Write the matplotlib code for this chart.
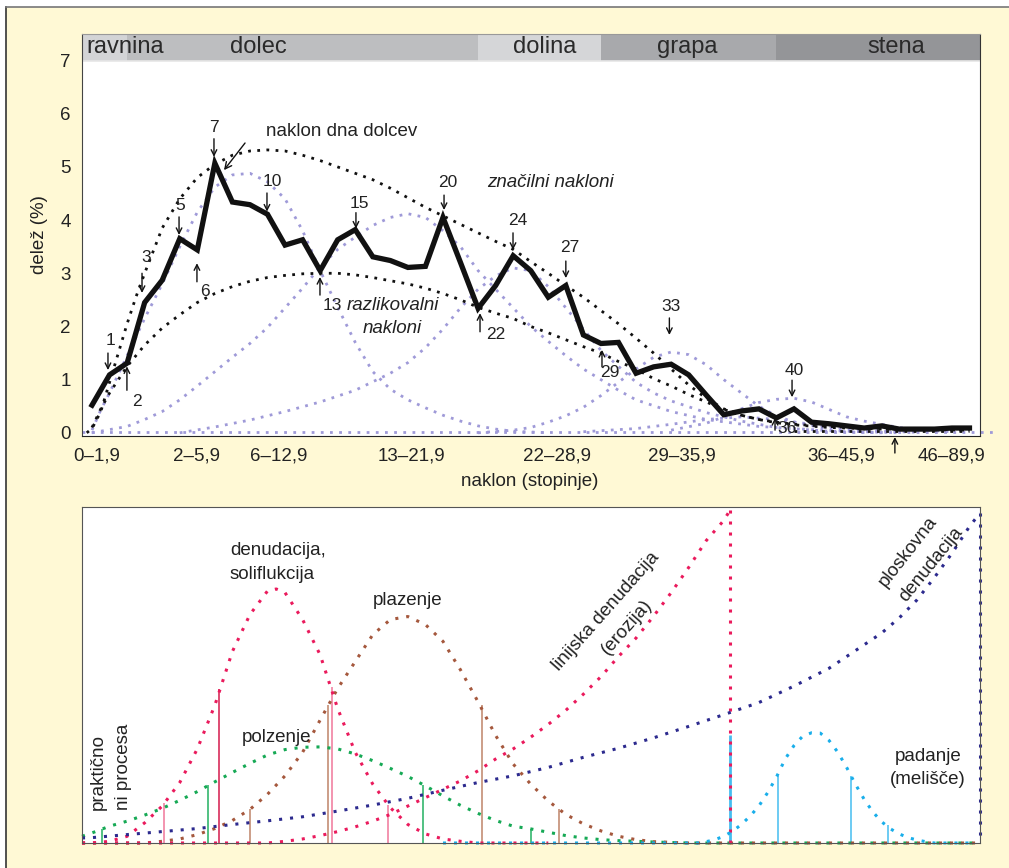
import matplotlib
matplotlib.use('Agg')
import matplotlib.pyplot as plt
from matplotlib.patches import Rectangle
from matplotlib.lines import Line2D

plt.rcParams['font.family'] = ['Liberation Sans', 'DejaVu Sans']

# ---------------- zgornji graf: delez naklonov ----------------
classes = list(range(51))
share = [0.52, 1.09, 1.31, 2.45, 2.87, 3.65, 3.44, 5.07, 4.34, 4.29,
         4.11, 3.53, 3.63, 3.05, 3.63, 3.82, 3.31, 3.24, 3.11, 3.13,
         4.05, 3.20, 2.34, 2.77, 3.33, 3.05, 2.55, 2.77, 1.84, 1.68,
         1.70, 1.12, 1.24, 1.29, 1.09, 0.71, 0.34, 0.41, 0.45, 0.28,
         0.45, 0.20, 0.17, 0.13, 0.09, 0.13, 0.07, 0.07, 0.07, 0.09, 0.09]

class_labels = ['0–1,9', '2–5,9', '6–12,9', '13–21,9', '22–28,9', '29–35,9', '36–45,9', '46–89,9']
class_pos = [0.28, 5.98, 10.66, 18.2, 26.5, 33.6, 42.7, 49.0]

# pasovi reliefnih oblik
band_names = ['ravnina', 'dolec', 'dolina', 'grapa', 'stena']
band_edges = [-0.57, 2, 22, 29, 39, 50.6]
band_colors = ['#d3d4d6', '#bdbec0', '#d5d6d8', '#a8a9ac', '#949598']
band_text_x = [-0.3, 9.46, 25.8, 33.9, 45.8]

# "značilni nakloni" (crna pikcasta)
k1_x = [-0.3, 0, 0.5, 1, 1.5, 2, 2.5, 3] + list(range(4, 41)) + [42, 44, 46, 48, 50]
k1_y = [0.0, 0.08, 0.4, 0.95, 1.5, 2.05, 2.55, 3.0,
        3.85, 4.4, 4.8, 5.05, 5.22, 5.3, 5.32, 5.3, 5.22, 5.12,
        5.0, 4.88, 4.76, 4.6, 4.42, 4.24, 4.08, 3.92, 3.76, 3.6,
        3.45, 3.22, 3.0, 2.77, 2.55, 2.3, 2.05, 1.78, 1.5, 1.2,
        0.9, 0.65, 0.45, 0.33, 0.25, 0.2, 0.16,
        0.12, 0.09, 0.07, 0.06, 0.05]

# "razlikovalni nakloni"
k2_x = [0, 0.5, 1] + list(range(2, 41)) + [42, 45, 50]
k2_y = [0.1, 0.45, 0.75,
        1.25, 1.65, 1.97, 2.22, 2.45, 2.62, 2.75, 2.85, 2.92, 2.96,
        2.99, 3.0, 3.0, 2.97, 2.92, 2.86, 2.8, 2.72, 2.62, 2.5,
        2.36, 2.25, 2.15, 2.0, 1.88, 1.75, 1.62, 1.5, 1.34, 1.2,
        1.02, 0.88, 0.72, 0.58, 0.44, 0.33, 0.25, 0.19, 0.15,
        0.1, 0.07, 0.05]

# komponente (vijolicne pikcaste)
pa_x = [0, 0.5, 1] + list(range(2, 25)) + [26]
pa_y = [0.05, 0.43, 0.75,
        1.45, 2.15, 2.8, 3.5, 4.15, 4.62, 4.85, 4.88, 4.72, 4.4,
        3.8, 3.05, 2.36, 1.7, 1.15, 0.82, 0.62, 0.47, 0.33, 0.22,
        0.13, 0.07, 0.03, 0.0]
pb_x = [0] + list(range(2, 32)) + [33, 35, 38, 42, 46]
pb_y = [0.0,
        0.12, 0.25, 0.4, 0.62, 0.88, 1.15, 1.42, 1.68, 1.98, 2.35,
        2.72, 3.12, 3.45, 3.68, 3.9, 4.05, 4.12, 4.05, 3.8, 3.5,
        3.05, 2.7, 2.35, 2.0, 1.72, 1.45, 1.2, 1.0, 0.8, 0.62,
        0.4, 0.25, 0.12, 0.04, 0.0]
pc_x = [5, 7, 9, 11, 13, 15, 17] + list(range(18, 34)) + [35, 37, 39, 42, 45]
pc_y = [0.0, 0.11, 0.24, 0.4, 0.58, 0.8, 1.12,
        1.32, 1.6, 1.95, 2.35, 2.7, 2.95, 3.1, 3.05, 2.75, 2.35,
        1.95, 1.55, 1.25, 0.95, 0.75, 0.6,
        0.38, 0.22, 0.1, 0.03, 0.0]
pd_x = [22, 24, 25, 26, 27, 28, 29, 30, 31, 32, 33, 34, 35, 36, 37, 38, 39, 40, 42, 44]
pd_y = [0.0, 0.05, 0.1, 0.2, 0.32, 0.48, 0.7, 0.95, 1.2, 1.42, 1.52, 1.47, 1.28, 1.0, 0.75, 0.5, 0.32, 0.2, 0.07, 0.02]
pe_x = [33, 35, 36, 37, 38, 39, 40, 41, 42, 43, 44, 45, 46, 47, 49]
pe_y = [0.05, 0.18, 0.3, 0.45, 0.57, 0.63, 0.65, 0.58, 0.44, 0.3, 0.22, 0.16, 0.1, 0.06, 0.02]
pf_x = [28, 31, 33, 35, 37, 39, 41, 43, 45, 47]
pf_y = [0.02, 0.08, 0.16, 0.25, 0.3, 0.25, 0.16, 0.08, 0.03, 0.01]

# oznake: besedilo, x, y, puscica x, rep, konica
marks = [
    ('1', 1.03, 1.74, 0.91, 1.5, 1.18),
    ('2', 2.56, 0.58, 1.99, 0.8, 1.25),
    ('3', 3.08, 3.30, 2.85, 3.0, 2.63),
    ('5', 5.01, 4.28, 4.96, 4.06, 3.72),
    ('6', 6.44, 2.65, 5.98, 2.84, 3.19),
    ('7', 6.95, 5.75, 6.95, 5.53, 5.19),
    ('10', 10.26, 4.72, 9.97, 4.51, 4.16),
    ('13', 13.68, 2.40, 12.99, 2.59, 2.93),
    ('15', 15.21, 4.32, 15.04, 4.14, 3.84),
    ('20', 20.28, 4.70, 20.06, 4.47, 4.19),
    ('22', 23.02, 1.84, 22.11, 1.90, 2.25),
    ('24', 24.27, 4.00, 23.99, 3.76, 3.44),
    ('27', 27.24, 3.49, 27.0, 3.23, 2.91),
    ('29', 29.52, 1.14, 29.06, 1.24, 1.56),
    ('33', 33.0, 2.37, 32.9, 2.16, 1.84),
    ('36', 39.6, 0.09, 38.92, 0.05, 0.28),
    ('40', 40.0, 1.18, 39.89, 0.99, 0.67),
    ('', 45.75, 0, 45.75, -0.38, -0.08),
]

# ---------------- spodnji graf: procesi ----------------
dn_x = [-0.57, 0] + list(range(1, 11)) + [10.5] + list(range(11, 23)) + [26]
dn_y = [0.0, 0.0, 0.005, 0.02, 0.06, 0.11, 0.18, 0.28, 0.41, 0.57, 0.68, 0.75, 0.756,
        0.745, 0.665, 0.56, 0.4, 0.27, 0.175, 0.105, 0.055, 0.027, 0.012, 0.005, 0.0, 0.0]
br_x = [-0.57] + list(range(3, 33)) + [34, 50.5]
br_y = [0.0, 0.0, 0.005, 0.012, 0.025, 0.043, 0.067, 0.1, 0.145, 0.2, 0.27,
        0.366, 0.46, 0.54, 0.62, 0.665, 0.674, 0.65, 0.6, 0.515, 0.42,
        0.32, 0.235, 0.175, 0.125, 0.085, 0.057, 0.036, 0.02, 0.01, 0.004, 0.0, 0.0]
gr_x = [-0.57] + list(range(0, 31)) + [32, 34, 50.5]
gr_y = [0.02, 0.03, 0.05, 0.065, 0.083, 0.103, 0.127, 0.153, 0.182, 0.21, 0.237,
        0.262, 0.278, 0.285, 0.286, 0.28, 0.265, 0.245, 0.222, 0.198, 0.17,
        0.14, 0.112, 0.088, 0.067, 0.05, 0.042, 0.032, 0.022, 0.015, 0.01,
        0.007, 0.003, 0.0, 0.0]
er_x = [-0.57] + list(range(10, 37)) + [36.35]
er_y = [0.0, 0.0, 0.005, 0.012, 0.022, 0.034, 0.048, 0.065, 0.085, 0.11, 0.135,
        0.16, 0.185, 0.215, 0.25, 0.28, 0.315, 0.353, 0.395, 0.443, 0.495,
        0.555, 0.61, 0.675, 0.745, 0.82, 0.9, 0.96, 0.99]
nv_x = [-0.57, 0] + list(range(2, 43, 2)) + list(range(43, 51)) + [50.6]
nv_y = [0.015, 0.016,
        0.025, 0.034, 0.043, 0.055, 0.066, 0.078, 0.095, 0.113, 0.133, 0.157,
        0.18, 0.2, 0.225, 0.255, 0.282, 0.313, 0.347, 0.382, 0.418, 0.467, 0.52,
        0.555, 0.59, 0.625, 0.67, 0.723, 0.79, 0.862, 0.942, 0.982]
cy_x = [20, 34.5] + [35 + 0.5 * i for i in range(27)] + [50]
cy_y = [0.0, 0.0, 0.004, 0.01, 0.02, 0.035, 0.055, 0.08, 0.11, 0.15, 0.196, 0.25,
        0.29, 0.318, 0.328, 0.327, 0.305, 0.27, 0.225, 0.175, 0.13, 0.092,
        0.063, 0.042, 0.027, 0.016, 0.009, 0.004, 0.0, 0.0]

green_stem_x = [0.57, 6.6, 18.86, 25.0]
green_stem_y = [0.042, 0.173, 0.173, 0.042]
pink_stem_x = [4.1, 13.7, 16.87]
pink_stem_y = [0.119, 0.464, 0.113]
red_stem_x = [7.24]
red_stem_y = [0.458]
brown_stem_x = [9.0, 13.45, 22.2, 26.6]
brown_stem_y = [0.1, 0.41, 0.41, 0.1]
cyan_stem_x = [39.1, 43.25, 45.35]
cyan_stem_y = [0.2, 0.2, 0.054]
cyan_peak_x = 36.35
cyan_peak_y = 0.321

# ---------------- risanje ----------------
W, H = 1009, 868
fig = plt.figure(figsize=(W / 100, H / 100), dpi=100)
fig.patch.set_facecolor('white')
fig.add_artist(Rectangle((6 / W, 0), 1, 1 - 7 / H, transform=fig.transFigure,
                         facecolor='#fff9d5', edgecolor='none', zorder=-5))
fig.add_artist(Line2D([6 / W, 6 / W], [0, 1 - 7 / H], transform=fig.transFigure, color='#333', lw=1.2))
fig.add_artist(Line2D([6 / W, 1], [1 - 7 / H, 1 - 7 / H], transform=fig.transFigure, color='#777', lw=1.2))

blk = '#111111'
pur = '#9f9ad8'
dot_top = dict(linestyle=(0, (1, 2.3)), dash_capstyle='butt')
dot_bot = dict(linestyle=(0, (1, 2.6)), dash_capstyle='butt')
txt = '#222222'

ax = fig.add_axes([82 / W, 1 - 436 / H, 898 / W, 402 / H])
ax.set_facecolor('white')
ax.set_xlim(-0.57, 50.6)
ax.set_ylim(-0.06, 7.5)

for i, name in enumerate(band_names):
    ax.add_patch(Rectangle((band_edges[i], 7.0), band_edges[i + 1] - band_edges[i], 0.5,
                           facecolor=band_colors[i], edgecolor='none', zorder=1))
    ax.text(band_text_x[i], 7.26, name, fontsize=17, color='#2a2a2a',
            ha='left' if i == 0 else 'center', va='center', zorder=3)
ax.plot([-0.57, 50.6], [7.0, 7.0], color='#e6e6e6', lw=1.2, zorder=2)

# vijolicne komponente
ax.plot([-0.57, 51.4], [0.015, 0.015], color=pur, lw=2.0, clip_on=False, **dot_top)
for cx, cy in [(pa_x, pa_y), (pb_x, pb_y), (pc_x, pc_y), (pd_x, pd_y), (pe_x, pe_y), (pf_x, pf_y)]:
    ax.plot(cx, cy, color=pur, lw=2.0, zorder=2, **dot_top)

ax.plot(k1_x, k1_y, color=blk, lw=2.0, zorder=3, **dot_top)
ax.plot(k2_x, k2_y, color=blk, lw=2.0, zorder=3, **dot_top)
ax.plot([40, 50], [0.04, 0.04], color=blk, lw=2.0, zorder=3, **dot_top)

ax.plot(classes, share, color=blk, lw=3.8, zorder=5, solid_joinstyle='miter')

for lab, tx, ty, axx, tail, tip in marks:
    if lab:
        ax.text(tx, ty, lab, fontsize=12.5, color=txt, ha='center', va='center', zorder=6)
    ax.annotate('', xy=(axx, tip), xytext=(axx, tail), annotation_clip=False,
                arrowprops=dict(arrowstyle='->', lw=1.0, color=blk, shrinkA=0, shrinkB=0,
                                mutation_scale=10), zorder=6)

ax.text(9.91, 5.66, 'naklon dna dolcev', fontsize=13.5, color=txt, ha='left', va='center')
ax.annotate('', xy=(7.52, 4.94), xytext=(8.72, 5.45),
            arrowprops=dict(arrowstyle='->', lw=1.0, color=blk, shrinkA=0, shrinkB=0, mutation_scale=12))
ax.text(14.53, 2.40, 'razlikovalni', fontsize=13.5, style='italic', color=txt, ha='left', va='center')
ax.text(17.09, 1.97, 'nakloni', fontsize=13.5, style='italic', color=txt, ha='center', va='center')
ax.text(26.15, 4.70, 'značilni nakloni', fontsize=13.5, style='italic', color=txt, ha='center', va='center')

ax.set_xticks(class_pos)
ax.set_xticklabels(class_labels, fontsize=13.5, color=txt)
ax.set_yticks(range(8))
ax.set_yticklabels([str(v) for v in range(8)], fontsize=13.5, color=txt)
ax.tick_params(axis='both', length=0)
ax.tick_params(axis='x', pad=8)
ax.tick_params(axis='y', pad=8)
ax.spines['left'].set_color('#444')
ax.spines['bottom'].set_color('#222')
ax.spines['right'].set_color('#333')
ax.spines['top'].set_color('#999')

fig.text(530 / W, 1 - 481 / H, 'naklon (stopinje)', fontsize=13.5, color=txt, ha='center', va='center')
fig.text(40 / W, 1 - 235 / H, 'delež (%)', fontsize=13.5, color=txt, ha='center', va='center', rotation=90)

# spodnji graf
ax2 = fig.add_axes([82 / W, 1 - 843 / H, 898 / W, 336 / H])
ax2.set_facecolor('white')
ax2.set_xlim(-0.57, 50.6)
ax2.set_ylim(0, 1)
ax2.set_xticks([])
ax2.set_yticks([])
for s in ax2.spines.values():
    s.set_color('#555')

ax2.vlines(green_stem_x, 0, green_stem_y, colors='#22b060', lw=1.1)
ax2.vlines(pink_stem_x, 0, pink_stem_y, colors='#f0769a', lw=1.1)
ax2.vlines(red_stem_x, 0, red_stem_y, colors='#d41a4c', lw=1.1)
ax2.vlines(brown_stem_x, 0, brown_stem_y, colors='#be8468', lw=1.1)
ax2.vlines(cyan_stem_x, 0, cyan_stem_y, colors='#45bdf0', lw=1.1)
ax2.vlines([cyan_peak_x], 0, [cyan_peak_y], colors='#45bdf0', lw=2.0)

lwb = 2.2
ax2.plot(gr_x, gr_y, color='#16a955', lw=lwb, clip_on=False, **dot_bot)
ax2.plot(br_x, br_y, color='#a5583d', lw=lwb, clip_on=False, **dot_bot)
ax2.plot(dn_x, dn_y, color='#ea1a5c', lw=lwb, clip_on=False, **dot_bot)
ax2.plot(er_x, er_y, color='#ea1a5c', lw=lwb, clip_on=False, **dot_bot)
ax2.plot([er_x[-1], er_x[-1]], [er_y[-1], 0], color='#ea1a5c', lw=lwb, clip_on=False, **dot_bot)
ax2.plot(cy_x, cy_y, color='#19aeea', lw=lwb, clip_on=False, **dot_bot)
ax2.plot(nv_x, nv_y, color='#2c2a8e', lw=lwb, clip_on=False, **dot_bot)
ax2.plot([nv_x[-1], nv_x[-1]], [nv_y[-1], 0], color='#2c2a8e', lw=lwb, clip_on=False, **dot_bot)

fs = 13.5
ax2.text(7.86, 0.872, 'denudacija,', fontsize=fs, color=txt, ha='left', va='center')
ax2.text(7.86, 0.798, 'soliflukcija', fontsize=fs, color=txt, ha='left', va='center')
ax2.text(18.0, 0.723, 'plazenje', fontsize=fs, color=txt, ha='center', va='center')
ax2.text(10.54, 0.3125, 'polzenje', fontsize=fs, color=txt, ha='center', va='center')
ax2.text(0.34, 0.098, 'praktično', fontsize=fs, color=txt, rotation=90, rotation_mode='anchor',
         ha='left', va='center')
ax2.text(1.77, 0.098, 'ni procesa', fontsize=fs, color=txt, rotation=90, rotation_mode='anchor',
         ha='left', va='center')
ax2.text(29.29, 0.69, 'linijska denudacija', fontsize=fs, color=txt, rotation=48.5,
         rotation_mode='anchor', ha='center', va='center')
ax2.text(30.48, 0.643, '(erozija)', fontsize=fs, color=txt, rotation=48.5,
         rotation_mode='anchor', ha='center', va='center')
ax2.text(46.5, 0.866, 'ploskovna', fontsize=fs, color=txt, rotation=52,
         rotation_mode='anchor', ha='center', va='center')
ax2.text(47.8, 0.83, 'denudacija', fontsize=fs, color=txt, rotation=51,
         rotation_mode='anchor', ha='center', va='center')
ax2.text(47.63, 0.256, 'padanje', fontsize=fs, color=txt, ha='center', va='center')
ax2.text(47.63, 0.1875, '(melišče)', fontsize=fs, color=txt, ha='center', va='center')

fig.savefig('out.png', dpi=100, facecolor=fig.get_facecolor())
